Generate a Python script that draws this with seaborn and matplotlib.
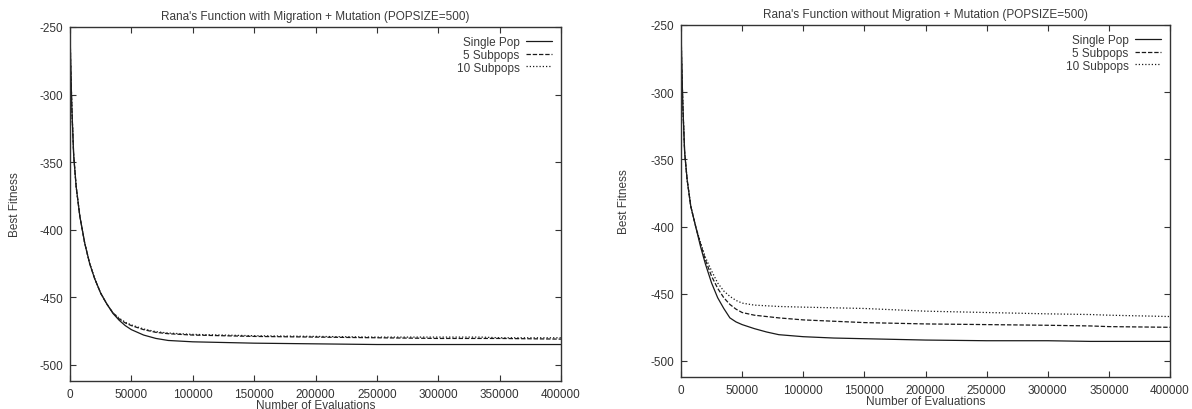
import pandas as pd
import matplotlib
matplotlib.use("Agg")
import matplotlib.pyplot as plt
import seaborn as sns

# evaluations (shared x grid)
evals = [0, 500, 1500, 3000, 5000, 8000, 12000, 16000, 20000, 25000, 30000, 35000, 40000,
         45000, 50000, 60000, 70000, 80000, 100000, 125000, 150000, 200000, 250000,
         300000, 335000, 350000, 400000]

# left panel: with migration
with_single = [-250, -275, -310, -345, -368, -390, -410, -425, -436, -447, -455, -462, -467,
               -471, -474, -478, -480.5, -482, -483, -483.5, -484, -484.5, -485,
               -485, -485, -485, -485]
with_sub5 = [-250, -275, -310, -345, -368, -390, -410, -425, -436, -447, -455, -461.5, -466,
             -469, -471, -474, -476, -477, -478, -478.5, -479, -479.5, -480,
             -480.5, -480.5, -480.5, -481]
with_sub10 = [-250, -275, -310, -345, -368, -390, -410, -425, -436, -447, -455, -461.5, -465.5,
              -468.5, -470.5, -473.5, -475.5, -476.5, -477.5, -478, -478.5, -479, -479.5,
              -479.5, -479.5, -480, -480]

# right panel: without migration
without_single = [-250, -275, -310, -345, -365, -385, -400, -415, -428, -442, -453, -461, -468,
                  -471, -473, -476, -478.5, -480.5, -482, -483, -483.5, -484.5, -485,
                  -485, -485.5, -485.5, -485.5]
without_sub5 = [-250, -275, -310, -345, -365, -385, -400, -413, -425, -437, -446, -453, -458,
                -461.5, -464, -466, -467, -468, -469.5, -470.5, -471.5, -472.5, -473,
                -473.5, -474, -474.5, -475]
without_sub10 = [-250, -275, -310, -345, -365, -385, -400, -412, -423, -433, -442, -448, -452,
                 -455, -457, -458.5, -459, -459.5, -460, -460.5, -461, -463, -464,
                 -465, -465.5, -466, -467]

series_names = ['Single Pop', '5 Subpops', '10 Subpops']
titles = ["Rana's Function with Migration + Mutation (POPSIZE=500)",
          "Rana's Function without Migration + Mutation (POPSIZE=500)"]
x_ticks = [0, 50000, 100000, 150000, 200000, 250000, 300000, 350000, 400000]
y_ticks = [-500, -450, -400, -350, -300, -250]


def long_df(values):
    frames = []
    for name, vals in zip(series_names, values):
        frames.append(pd.DataFrame({'evals': evals, 'fitness': vals, 'series': name}))
    return pd.concat(frames, ignore_index=True)


sns.set_theme(style='ticks')
plt.rcParams['font.family'] = ['Liberation Sans', 'DejaVu Sans']
plt.rcParams['axes.unicode_minus'] = False
text_col = '#3a3a3a'
plt.rcParams['text.color'] = text_col
plt.rcParams['axes.labelcolor'] = text_col
plt.rcParams['xtick.color'] = '#333333'
plt.rcParams['ytick.color'] = '#333333'

fig = plt.figure(figsize=(11.92, 4.10), dpi=100)
ax1 = fig.add_axes([70 / 1192, 1 - 382 / 410, 491 / 1192, 354 / 410])
ax2 = fig.add_axes([681 / 1192, 1 - 378 / 410, 489 / 1192, 352 / 410])

dashes = {'Single Pop': '', '5 Subpops': (3.5, 1.5), '10 Subpops': (1, 1.6)}
palette = {n: '#1a1a1a' for n in series_names}

panels = [(ax1, [with_single, with_sub5, with_sub10], -0.10),
          (ax2, [without_single, without_sub5, without_sub10], -0.105)]

for i, (ax, vals, ylab_x) in enumerate(panels):
    df = long_df(vals)
    sns.lineplot(data=df, x='evals', y='fitness', hue='series', style='series',
                 palette=palette, dashes=dashes, linewidth=0.9, ax=ax, legend=True)
    ax.set_xlim(0, 400000)
    ax.set_ylim(-512, -250)
    ax.set_xticks(x_ticks)
    ax.set_xticklabels([str(t) for t in x_ticks])
    ax.set_yticks(y_ticks)
    ax.tick_params(direction='in', length=4, width=0.8, top=True, right=True,
                   labelsize=8.5, pad=5)
    for s in ax.spines.values():
        s.set_visible(True)
        s.set_linewidth(1.0)
        s.set_color('#333333')
    ax.set_title(titles[i], fontsize=8.5, pad=6, color=text_col)
    ax.set_xlabel('Number of Evaluations', fontsize=8.5, labelpad=-1)
    ax.set_ylabel('Best Fitness', fontsize=8.5)
    ax.yaxis.set_label_coords(ylab_x, 0.5)
    handles, labels = ax.get_legend_handles_labels()
    ax.legend(handles, labels, loc='upper right', frameon=False, markerfirst=False,
              fontsize=8.5, labelspacing=0.05, handlelength=2.2, handletextpad=0.5,
              borderaxespad=0.4)

fig.savefig('out.png', dpi=100)
